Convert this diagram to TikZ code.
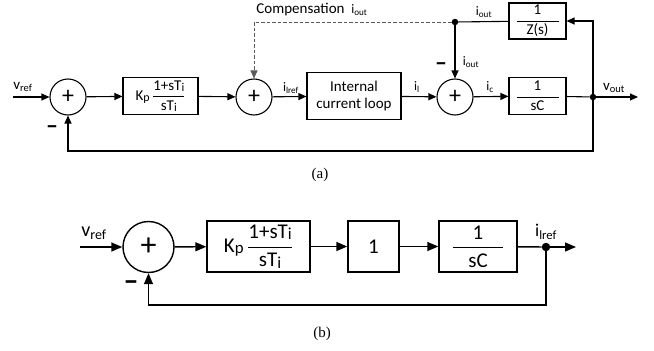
\documentclass[tikz,border=0pt]{standalone}
\usepackage{amsmath}
\usepackage{fontspec}
\setmainfont{Carlito}
\newfontfamily\capfont{Liberation Serif}
\usepackage{tikz}
\usetikzlibrary{arrows.meta,positioning}
\newcommand\fsa{\fontsize{15}{17}\selectfont}
\newcommand\fsb{\fontsize{21}{24}\selectfont}
\newcommand\fsl{\fontsize{13}{15}\selectfont}
\newcommand\lowsub[1]{\raisebox{-0.15ex}{\scalebox{0.8}{#1}}}
\newcommand\pitext{K\lowsub{p}\,$\dfrac{\text{1+sT\lowsub{i}}}{\text{sT\lowsub{i}}}$}
\tikzset{
  blk/.style={draw,line width=1.1pt,inner sep=0pt,align=center,font=\fsa},
  blkb/.style={blk,line width=1.4pt,font=\fsb},
  sumnode/.style={circle,draw,line width=1.1pt,minimum size=36pt,inner sep=0pt,font=\fontsize{24}{24}\selectfont},
  sumnodeb/.style={sumnode,line width=1.4pt,minimum size=51pt,font=\fontsize{32}{32}\selectfont},
  sig/.style={-{Triangle[length=8pt,width=7pt]},line width=1.1pt},
  sigb/.style={-{Triangle[length=11pt,width=9pt]},line width=1.4pt},
  wire/.style={line width=1.1pt},
  wireb/.style={line width=1.4pt},
  comp/.style={-{Triangle[length=8pt,width=7pt]},line width=1pt,draw=black!65,dash pattern=on 3.5pt off 2pt},
  jdot/.style={circle,fill,inner sep=0pt,minimum size=6.5pt},
  jdotb/.style={circle,fill,inner sep=0pt,minimum size=8.5pt},
  lbl/.style={font=\fsl,inner sep=1pt},
  minus/.style={font=\fontsize{24}{24}\selectfont\bfseries,inner sep=0pt},
  captext/.style={font=\capfont\fontsize{15}{17}\selectfont}
}
\begin{document}
\begin{tikzpicture}[x=1pt,y=-1pt]
\useasboundingbox (0,0) rectangle (654,351);
% (a) with compensation
\coordinate (ina) at (13,97);
\node[sumnode] (sa1) at (68,97) {+};
\node[blk,minimum width=75pt,minimum height=37pt] (pia) at (160.5,96) {\pitext};
\node[sumnode] (sa2) at (254,97) {+};
\node[blk,minimum width=94pt,minimum height=47pt] (icl) at (354,96) {Internal\\current loop};
\node[sumnode] (sa3) at (455,97) {+};
\node[blk,minimum width=57pt,minimum height=37pt] (sca) at (537.5,96) {$\dfrac{\text{1}}{\text{\makebox[42pt]{sC}}}$};
\node[jdot] (ja1) at (593,97) {};
\coordinate (outa) at (638,97);
\node[blk,minimum width=57pt,minimum height=36pt] (zs) at (537.5,21) {$\dfrac{\text{1}}{\text{\makebox[42pt]{Z(s)}}}$};
\node[jdot] (ja2) at (455,22) {};
\coordinate (fba) at (593,151);
\draw[sig] (ina) -- (sa1);
\draw[sig] (sa1) -- (pia);
\draw[sig] (pia) -- (sa2);
\draw[sig] (sa2) -- (icl);
\draw[sig] (icl) -- (sa3);
\draw[sig] (sa3) -- (sca);
\draw[wire] (sca) -- (ja1);
\draw[sig] (ja1) -- (outa);
\draw[sig] (ja1) |- (zs);
\draw[wire] (zs) -- (ja2);
\draw[sig] (ja2) -- (sa3);
\draw[comp] (ja2) -| (sa2);
\draw[sig] (ja1) -- (fba) -| (sa1);
\node[lbl,font=\fontsize{15}{17}\selectfont] at (23,87) {v\textsubscript{ref}};
\node[lbl] at (291,88) {i\textsubscript{lref}};
\node[lbl] at (417,87) {i\textsubscript{l}};
\node[lbl] at (490,87) {i\textsubscript{c}};
\node[lbl,font=\fontsize{15}{17}\selectfont] at (614,88) {v\textsubscript{out}};
\node[lbl] at (484,12) {i\textsubscript{out}};
\node[lbl] at (471,62) {i\textsubscript{out}};
\node[lbl,font=\fsa] at (312,10) {Compensation\ \ {\fsl i\textsubscript{out}}};
\node[minus] at (441,67) {--};
\node[minus] at (52,130) {--};
\node[captext] at (320,175) {(a)};
% (b) simplified loop
\coordinate (inb) at (80,247);
\node[sumnodeb] (sb1) at (148.5,247) {+};
\node[blkb,minimum width=103pt,minimum height=51pt] (pib) at (258.5,246.5) {\pitext};
\node[blkb,minimum width=51pt,minimum height=51pt] (one) at (373.5,246.5) {1};
\node[blkb,minimum width=78pt,minimum height=51pt] (scb) at (478,246.5) {$\dfrac{\text{1}}{\text{\makebox[50pt]{sC}}}$};
\node[jdotb] (jb) at (546,247) {};
\coordinate (outb) at (576,247);
\coordinate (fbb) at (546,305);
\draw[sigb] (inb) -- (sb1);
\draw[sigb] (sb1) -- (pib);
\draw[sigb] (pib) -- (one);
\draw[sigb] (one) -- (scb);
\draw[wireb] (scb) -- (jb);
\draw[sigb] (jb) -- (outb);
\draw[sigb] (jb) -- (fbb) -| (sb1);
\node[lbl,font=\fontsize{20}{22}\selectfont] at (94,233) {v\textsubscript{ref}};
\node[lbl,font=\fontsize{18}{20}\selectfont] at (546,232) {i\textsubscript{lref}};
\node[minus,font=\fontsize{30}{30}\selectfont\bfseries] at (131,286) {--};
\node[captext] at (322,334) {(b)};
\end{tikzpicture}
\end{document}
